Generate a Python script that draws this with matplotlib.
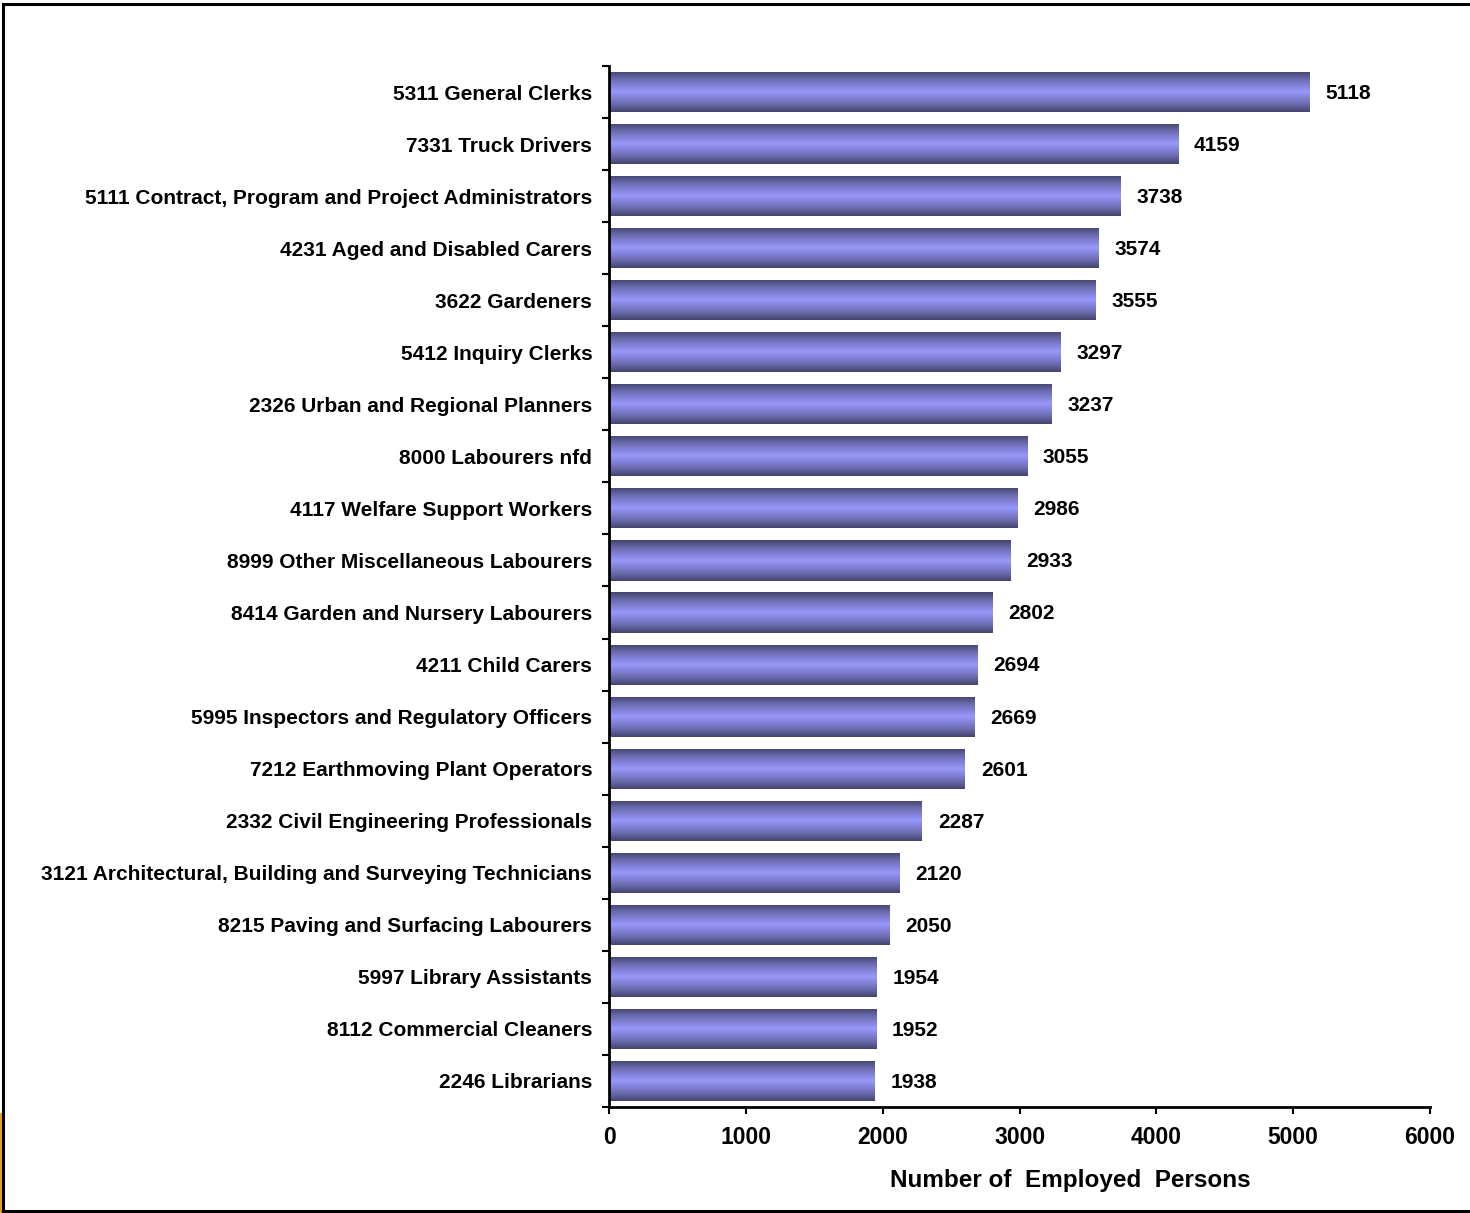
import numpy as np
import matplotlib
matplotlib.use("Agg")
import matplotlib.pyplot as plt
from matplotlib.colors import LinearSegmentedColormap
from matplotlib.lines import Line2D
from matplotlib.patches import Rectangle

categories = [
    "5311 General Clerks",
    "7331 Truck Drivers",
    "5111 Contract, Program and Project Administrators",
    "4231 Aged and Disabled Carers",
    "3622 Gardeners",
    "5412 Inquiry Clerks",
    "2326 Urban and Regional Planners",
    "8000 Labourers nfd",
    "4117 Welfare Support Workers",
    "8999 Other Miscellaneous Labourers",
    "8414 Garden and Nursery Labourers",
    "4211 Child Carers",
    "5995 Inspectors and Regulatory Officers",
    "7212 Earthmoving Plant Operators",
    "2332 Civil Engineering Professionals",
    "3121 Architectural, Building and Surveying Technicians",
    "8215 Paving and Surfacing Labourers",
    "5997 Library Assistants",
    "8112 Commercial Cleaners",
    "2246 Librarians",
]
values = [5118, 4159, 3738, 3574, 3555, 3297, 3237, 3055, 2986, 2933,
          2802, 2694, 2669, 2601, 2287, 2120, 2050, 1954, 1952, 1938]
xticks = [0, 1000, 2000, 3000, 4000, 5000, 6000]
xlabel = "Number of  Employed  Persons"

plt.rcParams['font.family'] = ['Liberation Sans', 'DejaVu Sans']

W, H = 1470, 1213
fig = plt.figure(figsize=(W / 100, H / 100), dpi=100)
ax = fig.add_axes([609 / W, 1 - 1107 / H, (1430 - 609) / W, (1107 - 66) / H])

cmap = LinearSegmentedColormap.from_list(
    "bargrad", [(0.0, "#43436c"), (0.2, "#6c6cb2"), (0.5, "#9898fd"),
                (0.8, "#6c6cb2"), (1.0, "#43436c")])
grad = np.linspace(0, 1, 256).reshape(-1, 1)

n = len(categories)
ypos = np.arange(n)[::-1]
bars = ax.barh(ypos, values, height=0.77, color="none", edgecolor="none")
for b in bars:
    x0, y0 = b.get_x(), b.get_y()
    w, h = b.get_width(), b.get_height()
    im = ax.imshow(grad, cmap=cmap, aspect="auto",
                   extent=[x0, x0 + w, y0, y0 + h], interpolation="bilinear",
                   zorder=2)
    im.set_clip_path(b)

for y, v in zip(ypos, values):
    ax.annotate(str(v), (v, y), xytext=(11.5, -1), textcoords="offset points",
                va="center", ha="left", fontsize=15, fontweight="bold")

ax.set_xlim(0, 6000)
ax.set_ylim(-0.5, n - 0.5)
ax.set_xticks(xticks)
ax.set_xticklabels([str(t) for t in xticks], fontsize=16.5, fontweight="bold")
ax.set_yticks(ypos)
ax.set_yticklabels(categories, fontsize=15, fontweight="bold")
ax.set_yticks(np.arange(-0.5, n, 1.0), minor=True)
ax.tick_params(axis="y", which="major", length=0, pad=12)
ax.tick_params(axis="y", which="minor", length=5, width=1.5, direction="out")
ax.tick_params(axis="x", length=5, width=1.5, direction="out", pad=9)
ax.set_xlabel(xlabel, fontsize=17.5, fontweight="bold")
ax.xaxis.set_label_coords((1070 - 609) / (1430 - 609), -(1180 - 1107) / (1107 - 66))
ax.xaxis.label.set_va("center")
for s in ["top", "right"]:
    ax.spines[s].set_visible(False)
for s in ["left", "bottom"]:
    ax.spines[s].set_linewidth(2)
ax.spines["left"].set_zorder(5)

# figure border
fig.add_artist(Line2D([3 / W, 1], [1 - 4 / H, 1 - 4 / H], color="black", lw=2.2))
fig.add_artist(Line2D([3 / W, 3 / W], [1 - 4 / H, 1 - 1211 / H], color="black", lw=2.2))
fig.add_artist(Line2D([3 / W, 1], [1 - 1211 / H, 1 - 1211 / H], color="black", lw=2.2))
fig.add_artist(Rectangle((0, 0), 2 / W, 100 / H, transform=fig.transFigure,
                         color="#e8a020", lw=0))

fig.savefig("out.png", dpi=100)
